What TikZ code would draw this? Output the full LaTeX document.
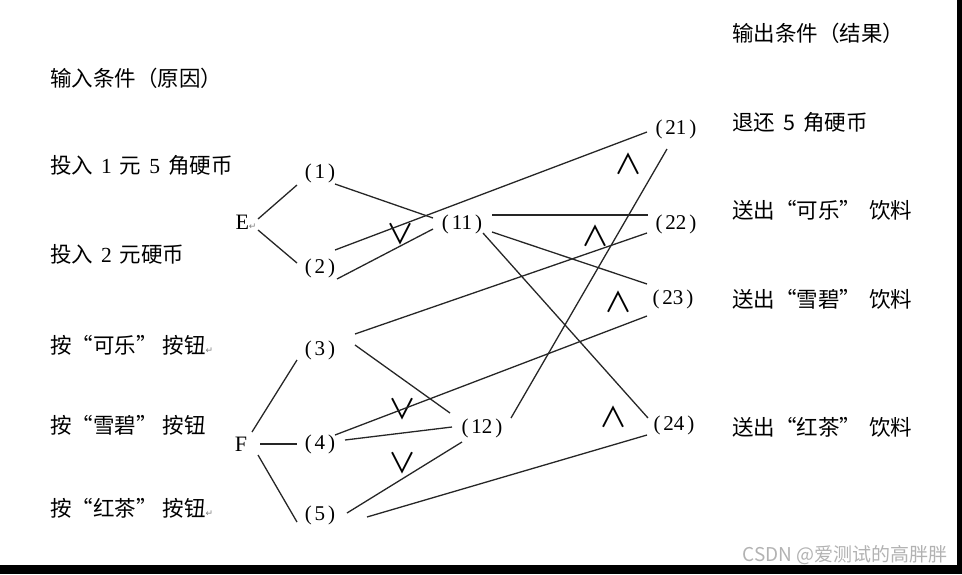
\documentclass[tikz,border=0pt]{standalone}
\usepackage{fontspec}
\setmainfont{Liberation Serif}
\newfontfamily\cjk{Noto Sans CJK SC}
\newfontfamily\symfont{DejaVu Sans}
\usetikzlibrary{positioning}
\newcommand{\lbl}[1]{(\hspace{3pt}#1\hspace{3pt})}
\newcommand{\dg}[1]{\hspace{8pt}\textrm{#1}\hspace{8pt}}
\newcommand{\retmark}{{\symfont\fontsize{9}{9}\selectfont\color{gray}↵}}
\tikzset{
  num/.style    = {inner sep=0pt, font=\fontsize{21}{24}\selectfont},
  gate/.style   = {inner sep=0pt, font=\fontsize{22}{24}\selectfont},
  cause/.style  = {anchor=west, inner sep=0pt, font=\cjk\fontsize{21.5}{24}\selectfont},
  effect/.style = {anchor=west, inner sep=0pt, font=\cjk\fontsize{21.5}{24}\selectfont},
  op/.style     = {inner sep=0pt, font=\cjk\fontsize{28}{30}\selectfont},
  link/.style   = {draw=black!85, line width=1.3pt},
}

\begin{document}
\begin{tikzpicture}[x=1pt, y=-1pt]
  \useasboundingbox (0,0) rectangle (962,574);
  % screenshot frame
  \fill[black] (0,565) rectangle (962,574);
  \fill[black] (957,0) rectangle (962,574);

  % causes
  \node (c0) [cause] at (50,78)  {输入条件（原因）};
  \node (c1) [cause] at (50,165) {投入\dg{1}元\dg{5}角硬币};
  \node (c2) [cause] at (50,254) {投入\dg{2}元硬币};
  \node (c3) [cause] at (50,345) {按“可乐”\hspace{5pt}按钮\retmark};
  \node (c4) [cause] at (50,425) {按“雪碧”\hspace{5pt}按钮};
  \node (c5) [cause] at (50,508) {按“红茶”\hspace{5pt}按钮\retmark};

  % effects
  \node (e0) [effect] at (732,33)  {输出条件（结果）};
  \node (e1) [effect] at (732,122) {退还\hspace{8pt}5\hspace{8pt}角硬币};
  \node (e2) [effect] at (732,210) {送出“可乐”\hspace{8pt}饮料};
  \node (e3) [effect] at (732,299) {送出“雪碧”\hspace{8pt}饮料};
  \node (e4) [effect] at (732,427) {送出“红茶”\hspace{8pt}饮料};

  % graph nodes
  \node (E)   [gate] at (246,222) {E\retmark};
  \node (F)   [gate] at (241,444) {F};
  \node (n1)  [num] at (320,173) {\lbl{1}};
  \node (n2)  [num] at (320,268) {\lbl{2}};
  \node (n3)  [num] at (320,350) {\lbl{3}};
  \node (n4)  [num] at (320,444) {\lbl{4}};
  \node (n5)  [num] at (320,515) {\lbl{5}};
  \node (n11) [num] at (462,224) {\lbl{11}};
  \node (n12) [num] at (482,428) {\lbl{12}};
  \node (n21) [num] at (676,129) {\lbl{21}};
  \node (n22) [num] at (676,224) {\lbl{22}};
  \node (n23) [num] at (673,299) {\lbl{23}};
  \node (n24) [num] at (674,425) {\lbl{24}};

  % or / and marks
  \node (or1)  [op] at (400,234) {∨};
  \node (or2)  [op] at (402,409) {∨};
  \node (or3)  [op] at (402,463) {∨};
  \node (and1) [op] at (628,164) {∧};
  \node (and2) [op] at (595,236) {∧};
  \node (and3) [op] at (618,302) {∧};
  \node (and4) [op] at (613,417) {∧};

  % E and F
  \draw [link] ([shift={(12,-3)}]E.center)  -- ([shift={(-23,12)}]n1.center);
  \draw [link] ([shift={(12,8)}]E.center)   -- ([shift={(-23,-5)}]n2.center);
  \draw [link] ([shift={(11,-12)}]F.center) -- ([shift={(-23,10)}]n3.center);
  \draw [link] ([shift={(19,0)}]F.center)   -- ([shift={(-23,0)}]n4.center);
  \draw [link] ([shift={(17,11)}]F.center)  -- ([shift={(-23,7)}]n5.center);

  % causes to middle nodes
  \draw [link] ([shift={(15,11)}]n1.center) -- ([shift={(-29,-6)}]n11.center);
  \draw [link] ([shift={(17,11)}]n2.center) -- ([shift={(-29,5)}]n11.center);
  \draw [link] ([shift={(35,-5)}]n3.center) -- ([shift={(-32,-15)}]n12.center);
  \draw [link] ([shift={(25,-4)}]n4.center) -- ([shift={(-30,-1)}]n12.center);
  \draw [link] ([shift={(27,-2)}]n5.center) -- ([shift={(-20,14)}]n12.center);

  % to effects
  \draw [link] ([shift={(15,-18)}]n2.center) -- ([shift={(-29,3)}]n21.center);
  \draw [link] ([shift={(29,-10)}]n12.center) -- ([shift={(-9,20)}]n21.center);
  \draw [link] ([shift={(30,-9)}]n11.center) -- ([shift={(-28,-9)}]n22.center);
  \draw [link] ([shift={(35,-16)}]n3.center) -- ([shift={(-29,9)}]n22.center);
  \draw [link] ([shift={(30,8)}]n11.center)  -- ([shift={(-26,-15)}]n23.center);
  \draw [link] ([shift={(15,-9)}]n4.center)  -- ([shift={(-26,17)}]n23.center);
  \draw [link] ([shift={(21,9)}]n11.center)  -- ([shift={(-26,-7)}]n24.center);
  \draw [link] ([shift={(47,2)}]n5.center)   -- ([shift={(-27,10)}]n24.center);

  % watermark
  \node (wm) [anchor=east, inner sep=0pt, text=gray!60, font=\cjk\fontsize{19}{22}\selectfont] at (948,555) {CSDN @爱测试的高胖胖};
\end{tikzpicture}
\end{document}
